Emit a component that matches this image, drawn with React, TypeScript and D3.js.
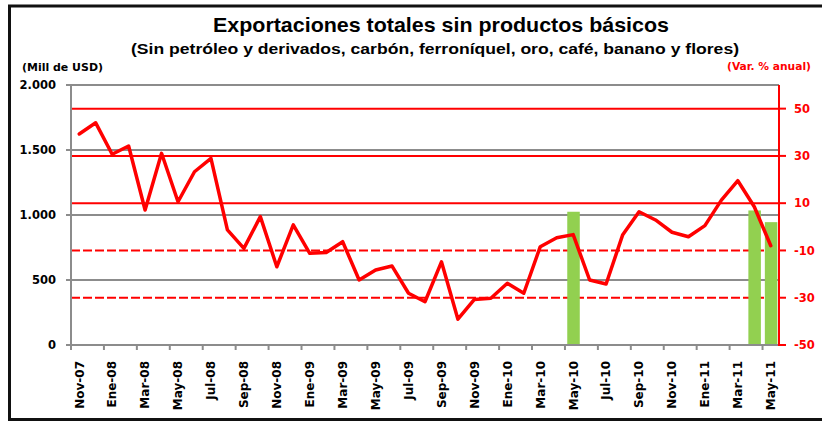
import { useRef, useEffect } from "react";
import * as d3 from "d3";

const months = [
  "Nov-07", "Dic-07",
  "Ene-08", "Feb-08", "Mar-08", "Abr-08", "May-08", "Jun-08", "Jul-08", "Ago-08", "Sep-08", "Oct-08", "Nov-08", "Dic-08",
  "Ene-09", "Feb-09", "Mar-09", "Abr-09", "May-09", "Jun-09", "Jul-09", "Ago-09", "Sep-09", "Oct-09", "Nov-09", "Dic-09",
  "Ene-10", "Feb-10", "Mar-10", "Abr-10", "May-10", "Jun-10", "Jul-10", "Ago-10", "Sep-10", "Oct-10", "Nov-10", "Dic-10",
  "Ene-11", "Feb-11", "Mar-11", "Abr-11", "May-11",
];

// variación % anual (eje derecho)
const varAnual = [
  39.3, 44.0, 30.7, 34.2, 7.1, 31.1, 10.6, 23.3, 29.0, -1.3,
  -9.1, 4.3, -16.9, 0.8, -11.2, -10.9, -6.3, -22.5, -18.3, -16.6,
  -28.1, -31.7, -14.8, -39.1, -30.7, -30.2, -23.9, -28.1, -8.4, -4.6,
  -3.3, -22.5, -24.2, -3.5, 6.4, 2.9, -2.3, -4.2, 0.5, 11.3,
  19.5, 8.5, -8.0,
];

// millones de USD (eje izquierdo)
const barMonths = ["May-10", "Abr-11", "May-11"];
const barValues = [1025, 1035, 945];

const leftTicks = [0, 500, 1000, 1500, 2000];
const rightTicks = [-50, -30, -10, 10, 30, 50];
const solidRedTicks = [10, 30, 50];
const dashedRedTicks = [-30, -10];

const labelMonths = months.filter((_, i) => i % 2 === 0);

export default function App() {
  const svgRef = useRef<SVGSVGElement>(null);

  useEffect(() => {
    const width = 822;
    const height = 421;
    const margin = { top: 85, right: 43, bottom: 76, left: 71 };
    const x0 = margin.left;
    const x1 = width - margin.right;
    const y0 = height - margin.bottom;
    const y1 = margin.top;

    const svg = d3.select(svgRef.current);
    svg.selectAll("*").remove();

    const x = d3.scaleBand<string>().domain(months).range([x0, x1]).padding(0);
    const bw = x.bandwidth();
    const yLeft = d3.scaleLinear().domain([0, 2000]).range([y0, y1]);
    const yRight = d3.scaleLinear().domain([-50, 60]).range([y0, y1]);

    const gray = "#8c8c8c";
    const red = "#ff0000";

    // frame
    svg
      .append("path")
      .attr("d", `M${width},6 L9.5,6 L9.5,419.5 L${width},419.5`)
      .attr("fill", "none")
      .attr("stroke", "#111")
      .attr("stroke-width", 3);

    // titles
    svg
      .append("text")
      .attr("x", 213)
      .attr("y", 31.5)
      .attr("textLength", 456)
      .attr("lengthAdjust", "spacingAndGlyphs")
      .style("font-family", "'Liberation Sans', Arial, sans-serif")
      .style("font-weight", "bold")
      .style("font-size", "21px")
      .attr("fill", "#000")
      .text("Exportaciones totales sin productos básicos");

    svg
      .append("text")
      .attr("x", 131)
      .attr("y", 53.5)
      .attr("textLength", 608)
      .attr("lengthAdjust", "spacingAndGlyphs")
      .style("font-family", "'Liberation Sans', Arial, sans-serif")
      .style("font-weight", "bold")
      .style("font-size", "14.5px")
      .attr("fill", "#000")
      .text("(Sin petróleo y derivados, carbón, ferroníquel, oro, café, banano y flores)");

    svg
      .append("text")
      .attr("x", 22)
      .attr("y", 71)
      .attr("textLength", 81)
      .attr("lengthAdjust", "spacingAndGlyphs")
      .style("font-family", "'DejaVu Sans', sans-serif")
      .style("font-weight", "bold")
      .style("font-size", "10px")
      .attr("fill", "#000")
      .text("(Mill de USD)");

    svg
      .append("text")
      .attr("x", 727)
      .attr("y", 70)
      .attr("textLength", 84)
      .attr("lengthAdjust", "spacingAndGlyphs")
      .style("font-family", "'DejaVu Sans', sans-serif")
      .style("font-weight", "bold")
      .style("font-size", "10px")
      .attr("fill", red)
      .text("(Var. % anual)");

    // gray grid lines (left axis)
    svg
      .append("g")
      .selectAll("line")
      .data(leftTicks.filter((t) => t > 0))
      .join("line")
      .attr("x1", x0)
      .attr("x2", x1)
      .attr("y1", (d) => yLeft(d))
      .attr("y2", (d) => yLeft(d))
      .attr("stroke", gray)
      .attr("stroke-width", 2);

    // red grid lines (right axis)
    svg
      .append("g")
      .selectAll("line")
      .data(solidRedTicks)
      .join("line")
      .attr("x1", x0)
      .attr("x2", x1)
      .attr("y1", (d) => yRight(d))
      .attr("y2", (d) => yRight(d))
      .attr("stroke", red)
      .attr("stroke-width", 2);

    svg
      .append("g")
      .selectAll("line")
      .data(dashedRedTicks)
      .join("line")
      .attr("x1", x0)
      .attr("x2", x1)
      .attr("y1", (d) => yRight(d))
      .attr("y2", (d) => yRight(d))
      .attr("stroke", red)
      .attr("stroke-width", 2)
      .attr("stroke-dasharray", "9,3");

    // bars
    svg
      .append("g")
      .selectAll("rect")
      .data(barMonths.map((m, i) => ({ m, v: barValues[i] })))
      .join("rect")
      .attr("x", (d) => (x(d.m) as number) + bw * 0.14)
      .attr("width", bw * 0.76)
      .attr("y", (d) => yLeft(d.v))
      .attr("height", (d) => yLeft(0) - yLeft(d.v))
      .attr("fill", "#92d050");

    // left axis
    svg
      .append("line")
      .attr("x1", x0)
      .attr("x2", x0)
      .attr("y1", y1)
      .attr("y2", y0 + 1)
      .attr("stroke", gray)
      .attr("stroke-width", 2);

    const leftG = svg.append("g");
    leftG
      .selectAll("line")
      .data(leftTicks)
      .join("line")
      .attr("x1", x0 - 5)
      .attr("x2", x0)
      .attr("y1", (d) => yLeft(d))
      .attr("y2", (d) => yLeft(d))
      .attr("stroke", gray)
      .attr("stroke-width", 2);
    leftG
      .selectAll("text")
      .data(leftTicks)
      .join("text")
      .attr("x", 56)
      .attr("y", (d) => yLeft(d))
      .attr("dy", "0.36em")
      .attr("text-anchor", "end")
      .style("font-family", "'DejaVu Sans', sans-serif")
      .style("font-weight", "bold")
      .style("font-size", "11.5px")
      .attr("fill", "#000")
      .text((d) => d3.format(",")(d).replace(/,/g, "."));

    // bottom axis
    svg
      .append("line")
      .attr("x1", x0)
      .attr("x2", x1)
      .attr("y1", y0)
      .attr("y2", y0)
      .attr("stroke", gray)
      .attr("stroke-width", 2);

    const bottomG = svg.append("g");
    bottomG
      .selectAll("line")
      .data(labelMonths)
      .join("line")
      .attr("x1", (d) => x(d) as number)
      .attr("x2", (d) => x(d) as number)
      .attr("y1", y0)
      .attr("y2", y0 + 5)
      .attr("stroke", gray)
      .attr("stroke-width", 2);
    bottomG
      .selectAll("text")
      .data(labelMonths)
      .join("text")
      .attr(
        "transform",
        (d) => `translate(${(x(d) as number) + bw / 2},${y0 + 16}) rotate(-90)`,
      )
      .attr("dy", "0.36em")
      .attr("text-anchor", "end")
      .style("font-family", "'DejaVu Sans', sans-serif")
      .style("font-weight", "bold")
      .style("font-size", "12px")
      .attr("fill", "#000")
      .text((d) => d);

    // top border
    svg
      .append("line")
      .attr("x1", x0)
      .attr("x2", x1)
      .attr("y1", y1)
      .attr("y2", y1)
      .attr("stroke", gray)
      .attr("stroke-width", 2);

    // right axis
    svg
      .append("line")
      .attr("x1", x1)
      .attr("x2", x1)
      .attr("y1", y1)
      .attr("y2", y0 + 1)
      .attr("stroke", red)
      .attr("stroke-width", 2);

    const rightG = svg.append("g");
    rightG
      .selectAll("line")
      .data(rightTicks)
      .join("line")
      .attr("x1", x1)
      .attr("x2", x1 + 7)
      .attr("y1", (d) => yRight(d))
      .attr("y2", (d) => yRight(d))
      .attr("stroke", red)
      .attr("stroke-width", 2);
    rightG
      .selectAll("text")
      .data(rightTicks)
      .join("text")
      .attr("x", 794)
      .attr("y", (d) => yRight(d))
      .attr("dy", "0.36em")
      .attr("text-anchor", "start")
      .style("font-family", "'DejaVu Sans', sans-serif")
      .style("font-weight", "bold")
      .style("font-size", "11.5px")
      .attr("fill", red)
      .text((d) => String(d));

    // line
    const line = d3
      .line<number>()
      .x((_, i) => (x(months[i]) as number) + bw / 2)
      .y((d) => yRight(d));

    svg
      .append("path")
      .datum(varAnual)
      .attr("d", line)
      .attr("fill", "none")
      .attr("stroke", red)
      .attr("stroke-width", 3.5)
      .attr("stroke-linejoin", "round")
      .attr("stroke-linecap", "round");
  }, []);

  return (
    <svg
      ref={svgRef}
      width={822}
      height={421}
      style={{ position: "absolute", left: 0, top: 0, background: "#fff" }}
    />
  );
}
